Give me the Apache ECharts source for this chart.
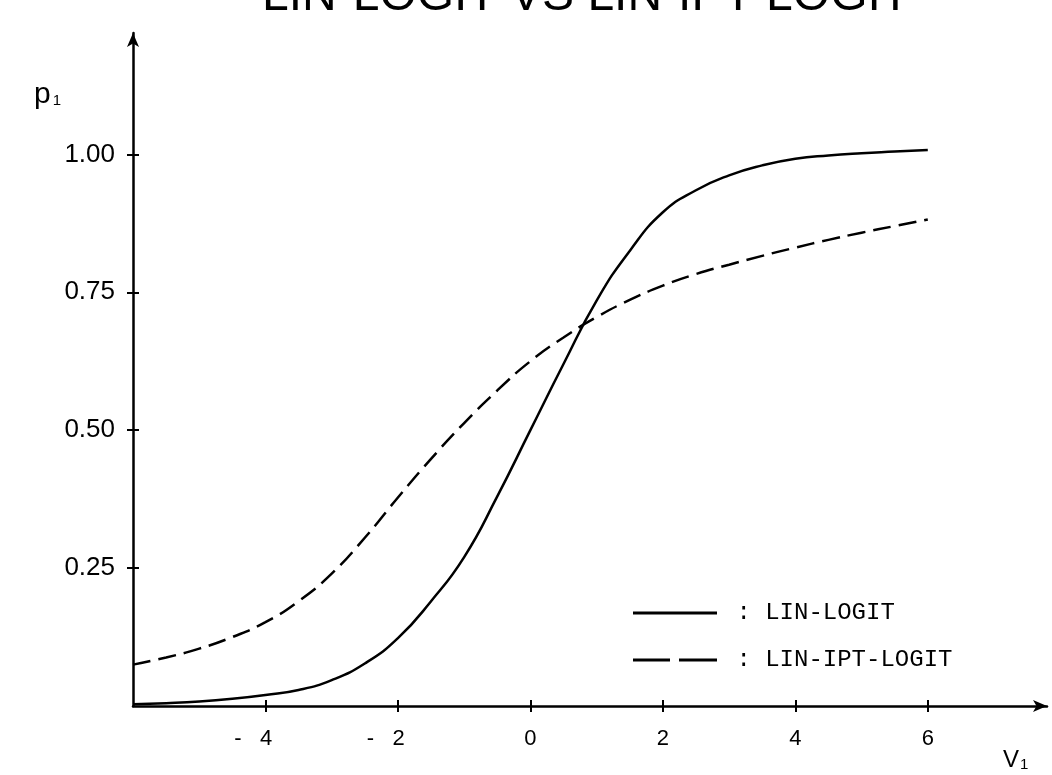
<!DOCTYPE html>
<html>
<head>
<meta charset="utf-8">
<script src="https://cdn.jsdelivr.net/npm/echarts@6/dist/echarts.min.js"></script>
<style>html,body{margin:0;padding:0;background:#fff;}#c{width:1052px;height:775px;}</style>
</head>
<body>
<div id="c"></div>
<script>
// ---- data ----
const titleText = 'LIN-LOGIT VS LIN-IPT-LOGIT';
const xValues = [-6, -5.5, -5, -4.5, -4, -3.5, -3, -2.5, -2, -1.5, -1, -0.5, 0, 0.5, 1, 1.5, 2, 2.5, 3, 3.5, 4, 4.5, 5, 5.5, 6];
const linLogit = [0.003, 0.005, 0.008, 0.013, 0.020, 0.029, 0.047, 0.077, 0.123, 0.19, 0.27, 0.38, 0.50, 0.62, 0.735, 0.825, 0.895, 0.935, 0.962, 0.98, 0.992, 0.998, 1.002, 1.005, 1.008];
const linIptLogit = [0.075, 0.088, 0.104, 0.125, 0.152, 0.19, 0.24, 0.305, 0.378, 0.448, 0.513, 0.572, 0.625, 0.668, 0.705, 0.736, 0.762, 0.783, 0.80, 0.816, 0.831, 0.845, 0.858, 0.87, 0.882];
const xTicks = [-4, -2, 0, 2, 4, 6];
const yTicks = [0.25, 0.50, 0.75, 1.00];
const seriesNames = ['LIN-LOGIT', 'LIN-IPT-LOGIT'];

const chart = echarts.init(document.getElementById('c'), null, {renderer: 'canvas'});
const ink = '#000';
const labelFont = 'Liberation Sans';

function xFmt(v) { return v < 0 ? '-   ' + Math.abs(v) + '    ' : String(v); }

const solidIcon = 'path://M0,0 H84 V3 H0 Z';
const dashIcon = 'path://M0,0 H37 V3 H0 Z M46,0 H84 V3 H46 Z';

const option = {
  backgroundColor: '#fff',
  animation: false,
  title: {
    text: titleText,
    left: 262, top: -27, padding: 0,
    textStyle: {fontFamily: labelFont, fontSize: 48, fontWeight: 'normal', color: ink}
  },
  grid: {left: 133, right: 5, top: 33, bottom: 69, containLabel: false},
  xAxis: [{
    type: 'value', min: -6, max: 7.8,
    axisLine: {show: true, onZero: false, symbol: ['none', 'arrow'], symbolSize: [9, 14], lineStyle: {color: ink, width: 2.5}},
    axisTick: {show: true, inside: false, length: 6, customValues: xTicks, lineStyle: {color: ink, width: 2}},
    axisLabel: {show: true, customValues: xTicks, formatter: xFmt, margin: 22, color: ink, fontFamily: labelFont, fontSize: 22},
    splitLine: {show: false}
  }, {
    type: 'value', min: -6, max: 7.8, position: 'bottom', offset: 0,
    axisLine: {show: false, onZero: false},
    axisTick: {show: true, inside: true, length: 6, customValues: xTicks, lineStyle: {color: ink, width: 2}},
    axisLabel: {show: false},
    splitLine: {show: false}
  }],
  yAxis: [{
    type: 'value', min: 0, max: 1.22,
    axisLine: {show: true, onZero: false, symbol: ['none', 'arrow'], symbolSize: [9, 14], lineStyle: {color: ink, width: 2.5}},
    axisTick: {show: true, inside: false, length: 6, customValues: yTicks, lineStyle: {color: ink, width: 2}},
    axisLabel: {show: true, customValues: yTicks, formatter: v => v.toFixed(2), margin: 18, color: ink, fontFamily: labelFont, fontSize: 26},
    splitLine: {show: false}
  }, {
    type: 'value', min: 0, max: 1.22, position: 'left', offset: 0,
    axisLine: {show: false, onZero: false},
    axisTick: {show: true, inside: true, length: 6, customValues: yTicks, lineStyle: {color: ink, width: 2}},
    axisLabel: {show: false},
    splitLine: {show: false}
  }],
  legend: {
    orient: 'vertical', left: 628, top: 596,
    itemWidth: 84, itemHeight: 3, itemGap: 23,
    data: [
      {name: seriesNames[0], icon: solidIcon},
      {name: seriesNames[1], icon: dashIcon}
    ],
    itemStyle: {color: ink, borderWidth: 0},
    formatter: n => ' : ' + n,
    textStyle: {fontFamily: 'Liberation Mono', fontSize: 24, color: ink, lineHeight: 24}
  },
  graphic: [
    {type: 'text', left: 34, top: 80, style: {
      text: '{a|p}{b|1}',
      rich: {a: {fontFamily: labelFont, fontSize: 30, fill: ink}, b: {fontFamily: labelFont, fontSize: 15, fill: ink, padding: [12, 0, 0, 2]}}
    }},
    {type: 'text', left: 1003, top: 748, style: {
      text: '{a|V}{b|1}',
      rich: {a: {fontFamily: labelFont, fontSize: 24, fill: ink}, b: {fontFamily: labelFont, fontSize: 15, fill: ink, padding: [10, 0, 0, 1]}}
    }}
  ],
  series: [{
    name: seriesNames[0], type: 'line', smooth: true, symbol: 'none', xAxisIndex: 0, yAxisIndex: 0,
    data: xValues.map((x, i) => [x, linLogit[i]]),
    lineStyle: {color: ink, width: 2.5, type: 'solid'}, itemStyle: {color: ink}
  }, {
    name: seriesNames[1], type: 'line', smooth: true, symbol: 'none', xAxisIndex: 0, yAxisIndex: 0,
    data: xValues.map((x, i) => [x, linIptLogit[i]]),
    lineStyle: {color: ink, width: 2.5, type: [18, 8]}, itemStyle: {color: ink}
  }]
};
chart.setOption(option);
</script>
</body>
</html>
